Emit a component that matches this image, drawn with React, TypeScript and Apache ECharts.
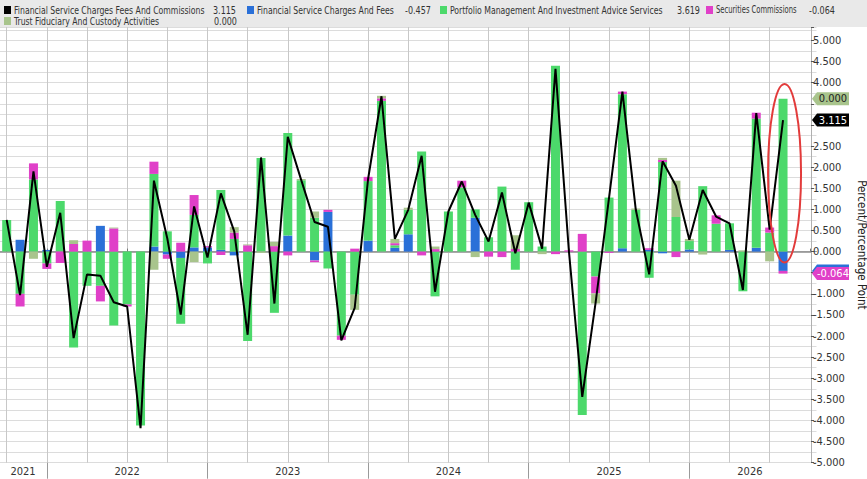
import React, { useEffect, useRef } from 'react';
import * as echarts from 'echarts';

// Month-end categories (two empty months pad the right side of the plot)
const categories = [
  '2021-09', '2021-10', '2021-11', '2021-12',
  '2022-01', '2022-02', '2022-03', '2022-04', '2022-05', '2022-06', '2022-07', '2022-08', '2022-09', '2022-10', '2022-11', '2022-12',
  '2023-01', '2023-02', '2023-03', '2023-04', '2023-05', '2023-06', '2023-07', '2023-08', '2023-09', '2023-10', '2023-11', '2023-12',
  '2024-01', '2024-02', '2024-03', '2024-04', '2024-05', '2024-06', '2024-07', '2024-08', '2024-09', '2024-10', '2024-11', '2024-12',
  '2025-01', '2025-02', '2025-03', '2025-04', '2025-05', '2025-06', '2025-07', '2025-08', '2025-09', '2025-10', '2025-11', '2025-12',
  '2026-01', '2026-02', '2026-03', '2026-04', '2026-05', '2026-06', '2026-07',
  '2026-08', '2026-09',
];

// Financial Service Charges Fees And Commissions (total, line)
const totalLine = [
  0.75, -1.03, 1.90, -0.36, 0.92, -2.05, -0.54, -0.57, -1.20, -1.30, -4.18, 1.68,
  0.31, -1.49, 1.07, -0.14, 1.38, 0.48, -1.97, 2.23, -1.23, 2.72, 1.70, 0.70,
  0.59, -2.10, -1.33, 1.72, 3.68, 0.30, 0.99, 2.27, -0.95, 0.95, 1.66, 0.87,
  0.24, 1.40, -0.04, 1.16, 0.07, 4.33, 0.02, -3.44, -1.20, 1.27, 3.79, 0.99,
  -0.54, 2.14, 1.56, 0.28, 1.46, 0.83, 0.67, -0.91, 3.28, 0.52, 3.115,
];
// Financial Service Charges And Fees
const feesValues = [
  0, 0.28, 0, 0.04, 0, 0, 0, 0.61, 0, 0, 0, 0.12,
  -0.07, -0.15, 0.10, 0.10, 0.04, -0.09, 0, 0, 0, 0.38, 0, -0.21,
  0.94, 0, 0, 0.26, 0, 0.09, 0.41, 0, 0, 0, 0, 0.80,
  0, 0, 0, 0, 0, 0, 0, 0, 0, 0, 0.08, 0,
  0.04, -0.04, 0, 0.05, 0, 0, 0.04, 0, 0.09, 0, -0.457,
];
// Portfolio Management And Investment Advice Services
const portfolioValues = [
  0.75, -1.00, 1.71, -0.28, 1.20, -2.27, -0.81, -0.81, -1.75, -1.25, -4.12, 1.72,
  0.48, -1.56, 0.77, -0.28, 1.42, 0.30, -2.12, 2.22, -1.45, 2.43, 1.69, 0.80,
  -0.40, -1.99, -1.02, 1.41, 3.57, 0.06, 0.58, 2.37, -1.06, 0.95, 1.52, 0.20,
  0.34, 1.54, -0.43, 1.17, 0.12, 4.40, 0, -3.87, -0.59, 1.28, 3.65, 0.99,
  -0.62, 2.12, 0.82, 0.20, 1.55, 0.66, 0.63, -0.94, 3.06, 0.45, 3.619,
];
// Securities Commissions
const securitiesValues = [
  0, -0.30, 0.38, -0.13, -0.27, 0.18, 0.26, -0.37, 0.55, -0.05, 0, 0.29,
  -0.10, 0.21, 0.47, 0.03, -0.08, 0.15, 0.15, 0, 0.13, -0.09, 0, -0.04,
  0.05, -0.10, 0.07, 0.10, 0.06, 0.05, 0, -0.09, 0.06, 0, 0.16, 0,
  -0.12, -0.13, 0.06, 0, 0, -0.06, 0.03, 0.42, -0.40, -0.03, 0.06, 0,
  0.04, 0.05, -0.13, 0, 0, 0.20, 0, 0, 0.14, 0.12, -0.064,
];
// Trust Fiduciary And Custody Activities
const trustValues = [
  0, 0, -0.17, 0, 0, 0.09, 0, 0, 0.02, 0, 0, -0.43,
  0, 0, -0.25, 0, 0, 0.13, 0.02, -0.03, 0.10, 0, 0.03, 0.15,
  0, 0, -0.36, 0, 0.06, 0.10, 0.05, 0, 0.06, 0, 0, -0.13,
  0, 0, 0.33, 0, -0.06, 0, 0, 0, -0.24, 0, 0, 0.03,
  0, 0.05, 0.86, 0.05, -0.07, 0, 0, 0.03, 0, -0.23, 0,
];

const seriesNames = {
  total: 'Financial Service Charges Fees And Commissions',
  fees: 'Financial Service Charges And Fees',
  portfolio: 'Portfolio Management And Investment Advice Services',
  securities: 'Securities Commissions',
  trust: 'Trust Fiduciary And Custody Activities',
};

const COLORS = {
  total: '#000000',
  fees: '#2a70d8',
  portfolio: '#4cd96b',
  securities: '#e040c8',
  trust: '#a8c48c',
};

// Where the year names sit on the axis (mid-year, or mid of the visible part)
const yearLabelMonths = ['2021-10', '2022-06', '2023-06', '2024-06', '2025-06', '2026-04'];
// Highlight ellipse around the latest reading (value range it covers)
const highlightRange = [-0.26, 3.97];

const Y_MIN = -5;
const Y_MAX = 5.32;

const FONT = "'Liberation Sans Narrow', 'DejaVu Sans Condensed', 'Liberation Sans', Arial, sans-serif";

const GRID_LEFT = 0;
const GRID_RIGHT = 50.5;
const GRID_TOP = 27;
const GRID_BOTTOM = 16.3;

const last = totalLine.length - 1;
const stackLast = [feesValues[last], portfolioValues[last], securitiesValues[last], trustValues[last]];
const endOf = (idx: number) => {
  const v = stackLast[idx];
  let s = 0;
  for (let i = 0; i <= idx; i++) {
    if ((v >= 0 && stackLast[i] >= 0) || (v < 0 && stackLast[i] < 0)) s += stackLast[i];
  }
  return s;
};
// values at which the last-value tags sit on the right axis
const tagLevels = [endOf(3), totalLine[last], endOf(2)];

const isQuarterEnd = (c: string) => ['03', '06', '09', '12'].includes(c.slice(5));

export default function App() {
  const ref = useRef<HTMLDivElement>(null);

  useEffect(() => {
    if (!ref.current) return;
    const chart = echarts.init(ref.current, null, { renderer: 'svg' });

    // half a category band: the quarter grid is drawn on a second grid whose
    // ticks (boundaryGap false) fall on the bar centres of the main grid
    const plotW = 867 - GRID_LEFT - GRID_RIGHT;
    const halfBand = plotW / categories.length / 2;

    const barSeries = (key: string, data: number[]) => ({
      type: 'bar',
      name: (seriesNames as any)[key],
      stack: 'total',
      data,
      barWidth: 9,
      itemStyle: { color: (COLORS as any)[key] },
      z: 2,
      silent: true,
    });

    chart.setOption({
      animation: false,
      backgroundColor: '#ffffff',
      textStyle: { fontFamily: FONT },
      grid: [
        { left: GRID_LEFT, right: GRID_RIGHT, top: GRID_TOP, bottom: GRID_BOTTOM, containLabel: false, outerBoundsMode: 'none' },
        {
          left: GRID_LEFT + halfBand,
          right: GRID_RIGHT + halfBand,
          top: GRID_TOP,
          bottom: GRID_BOTTOM,
          containLabel: false,
          outerBoundsMode: 'none',
        },
      ],
      xAxis: [
        {
          type: 'category',
          gridIndex: 0,
          data: categories,
          position: 'bottom',
          axisLine: { show: true, lineStyle: { color: '#9a9a9a', width: 1 } },
          axisTick: {
            show: true,
            inside: true,
            length: 3,
            alignWithLabel: true,
            interval: (i: number) => isQuarterEnd(categories[i]),
            lineStyle: { color: '#777' },
          },
          axisLabel: {
            show: true,
            interval: (i: number) => yearLabelMonths.includes(categories[i]),
            formatter: (v: string) => {
              const y = v.slice(0, 4);
              if (v === yearLabelMonths[0]) return `{a|${y}}`;
              if (v === yearLabelMonths[yearLabelMonths.length - 1]) return `{b|${y}}`;
              return y;
            },
            color: '#333',
            fontSize: 11,
            fontFamily: FONT,
            margin: 3,
            rich: {
              a: { padding: [0, 0, 0, 6], fontSize: 11, fontFamily: FONT, color: '#333' },
              b: { padding: [0, 0, 0, 14], fontSize: 11, fontFamily: FONT, color: '#333' },
            },
          },
          splitLine: { show: false },
        },
        {
          type: 'category',
          gridIndex: 0,
          data: categories,
          position: 'bottom',
          axisLine: { show: false },
          axisTick: {
            show: true,
            length: 16,
            alignWithLabel: true,
            interval: (i: number) => categories[i].slice(5) === '12',
            lineStyle: { color: '#9a9a9a' },
          },
          axisLabel: { show: false },
          splitLine: { show: false },
        },
        {
          type: 'category',
          gridIndex: 1,
          data: categories,
          boundaryGap: false,
          axisLine: { show: false },
          axisTick: { show: false },
          axisLabel: { show: false },
          splitLine: {
            show: true,
            interval: (i: number) => i < totalLine.length && isQuarterEnd(categories[i]),
            lineStyle: { color: '#c8c8c8', width: 1 },
          },
        },
      ],
      yAxis: [
        {
          type: 'value',
          gridIndex: 0,
          position: 'right',
          offset: -5.5,
          min: Y_MIN,
          max: Y_MAX,
          interval: 0.5,
          axisLine: { show: true, lineStyle: { color: '#b0b0b0' } },
          axisTick: { show: true, length: 3, lineStyle: { color: '#555' } },
          axisLabel: {
            formatter: (v: number) => {
              if (Math.abs(v * 2 - Math.round(v * 2)) > 1e-6) return '';
              if (tagLevels.some((t) => Math.abs(t - v) < 0.15)) return '';
              return v.toFixed(3);
            },
            color: '#333',
            fontSize: 11,
            fontFamily: FONT,
            margin: 2,
          },
          splitLine: { show: true, lineStyle: { color: '#dcdcdc', width: 1 } },
          minorTick: { show: false, splitNumber: 2 },
          minorSplitLine: { show: true, lineStyle: { color: '#dcdcdc', width: 1 } },
          name: 'Percent/Percentage Point',
          nameLocation: 'middle',
          nameRotate: -90,
          nameGap: 33,
          nameTextStyle: { color: '#222', fontSize: 11.5, fontFamily: FONT },
        },
        {
          type: 'value',
          gridIndex: 1,
          min: Y_MIN,
          max: Y_MAX,
          show: false,
          splitLine: { show: false },
        },
      ],
      series: [
        barSeries('fees', feesValues),
        barSeries('portfolio', portfolioValues),
        barSeries('securities', securitiesValues),
        barSeries('trust', trustValues),
        {
          type: 'line',
          name: seriesNames.total,
          data: totalLine,
          symbol: 'none',
          lineStyle: { color: COLORS.total, width: 2 },
          z: 5,
          silent: true,
        },
      ],
    });

    // ---- overlays: zero line, legend, last-value tags, highlight ellipse ----
    const yAt = (v: number) => Number(chart.convertToPixel({ yAxisIndex: 0 }, v));
    const xAt = (i: number) => Number(chart.convertToPixel({ xAxisIndex: 0 }, categories[i]));
    const band = xAt(1) - xAt(0);
    const plotLeft = xAt(0) - band / 2;
    const plotRight = xAt(categories.length - 1) + band / 2;
    const axisX = plotRight - 5.5;
    const xLast = xAt(last);

    const zeroLine = {
      type: 'rect',
      shape: { x: plotLeft, y: Math.round(yAt(0)), width: axisX - plotLeft, height: 1 },
      style: { fill: '#a9a9a9' },
      z: 1,
    };

    const tag = (value: number, yVal: number, bg: string, fg: string, withText = true) => {
      const y = yAt(yVal);
      const x0 = axisX + 1;
      const children: any[] = [
        {
          type: 'polygon',
          shape: {
            points: [
              [x0, y],
              [x0 + 5, y - 6.5],
              [x0 + 37, y - 6.5],
              [x0 + 37, y + 6.5],
              [x0 + 5, y + 6.5],
            ],
          },
          style: { fill: bg },
          z: 50,
        },
      ];
      if (withText) {
        children.push({
          type: 'text',
          x: x0 + 21,
          y,
          style: {
            text: value.toFixed(3),
            fill: fg,
            font: `11px ${FONT}`,
            align: 'center',
            verticalAlign: 'middle',
          },
          z: 51,
        });
      }
      return { type: 'group', z: 50, children };
    };

    const legendItems = [
      { key: 'total', value: totalLine[last], x: 4, y: 10, vx: 213, sx: 0.82 },
      { key: 'fees', value: feesValues[last], x: 247, y: 10, vx: 405, sx: 0.82 },
      { key: 'portfolio', value: portfolioValues[last], x: 440, y: 10, vx: 677, sx: 0.82 },
      { key: 'securities', value: securitiesValues[last], x: 706, y: 10, vx: 809, sx: 0.72 },
      { key: 'trust', value: trustValues[last], x: 4, y: 21, vx: 214, sx: 0.82 },
    ];

    const legendEls: any[] = [
      { type: 'rect', shape: { x: 0, y: 0, width: 867, height: 27 }, style: { fill: '#e9e9e9' }, z: 40 },
    ];
    legendItems.forEach((it) => {
      legendEls.push({
        type: 'rect',
        shape: { x: it.x, y: it.y - 4, width: 7, height: 8 },
        style: { fill: (COLORS as any)[it.key] },
        z: 41,
      });
      legendEls.push({
        type: 'text',
        x: it.x + 10,
        y: it.y,
        scaleX: it.sx,
        style: { text: (seriesNames as any)[it.key], fill: '#333', font: `10.5px ${FONT}`, verticalAlign: 'middle' },
        z: 41,
      });
      legendEls.push({
        type: 'text',
        x: it.vx,
        y: it.y,
        scaleX: 0.85,
        style: { text: it.value.toFixed(3), fill: '#333', font: `10.5px ${FONT}`, verticalAlign: 'middle' },
        z: 41,
      });
    });

    const yTop = yAt(highlightRange[1]);
    const yBot = yAt(highlightRange[0]);

    chart.setOption({
      graphic: {
        elements: [
          zeroLine,
          ...legendEls,
          tag(trustValues[last], endOf(3), COLORS.trust, '#222'),
          tag(totalLine[last], totalLine[last], COLORS.total, '#fff'),
          tag(feesValues[last], endOf(0), COLORS.fees, '#fff', false),
          tag(securitiesValues[last], endOf(2), COLORS.securities, '#fff'),
          {
            type: 'ellipse',
            shape: { cx: xLast + 1.5, cy: (yTop + yBot) / 2, rx: 16.5, ry: (yBot - yTop) / 2 },
            style: { fill: 'none', stroke: '#e23b3b', lineWidth: 2 },
            z: 60,
            silent: true,
          },
        ],
      },
    });

    return () => chart.dispose();
  }, []);

  return <div ref={ref} style={{ position: 'absolute', left: 0, top: 0, width: 867, height: 479 }} />;
}
